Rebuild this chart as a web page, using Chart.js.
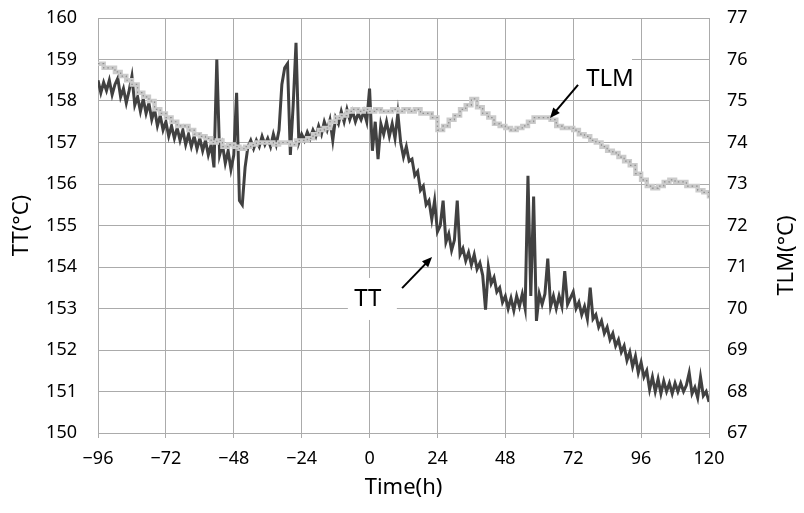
<!DOCTYPE html>
<html>
<head>
<meta charset="utf-8">
<script src="https://cdn.jsdelivr.net/npm/chart.js@4.4.1/dist/chart.umd.min.js"></script>
<style>
  html, body { margin: 0; padding: 0; background: #fff; }
  #wrap { width: 804px; height: 513px; }
</style>
</head>
<body>
<div id="wrap"><canvas id="grafico" width="804" height="513"></canvas></div>
<script>
/*******************************************************************************/
// Datos

// TT, una lectura por hora, de -96 h a 120 h
const ttStart = -96;
const ttValues = [
    158.5, 158.2, 158.45, 158.25, 158.5, 158.15, 158.4, 158.55, 158.1, 158.3, 157.95, 158.25,   // -96..-85
    158.6, 157.9, 158.1, 157.75, 158.05, 157.7, 157.95, 157.55, 157.8, 157.4, 157.65, 157.3,    // -84..-73
    157.5, 157.15, 157.4, 157.1, 157.35, 157.05, 157.3, 156.95, 157.2, 156.9, 157.15, 156.85,   // -72..-61
    157.1, 156.8, 157.05, 156.7, 156.95, 156.4, 159.0, 156.7, 156.95, 156.5, 156.8, 156.35,     // -60..-49
    156.7, 158.2, 155.6, 155.5, 156.4, 156.9, 157.05, 156.85, 157.05, 156.9, 157.15, 156.95,    // -48..-37
    157.1, 156.9, 157.2, 156.95, 157.3, 158.4, 158.8, 158.9, 156.7, 157.9, 159.4, 157.0,        // -36..-25
    157.2, 157.05, 157.25, 157.1, 157.3, 157.15, 157.4, 157.2, 157.5, 157.3, 157.55, 157.05,    // -24..-13
    157.6, 157.45, 157.75, 157.5, 157.8, 157.55, 157.75, 157.5, 157.7, 157.55, 157.75, 157.5,   // -12..-1
    158.3, 156.8, 157.5, 156.6, 157.45, 157.2, 157.5, 157.15, 157.45, 157.1, 157.7, 157.0,      // 0..11
    156.65, 156.9, 156.55, 156.6, 156.2, 156.3, 155.85, 155.95, 155.5, 155.6, 155.15, 155.6,    // 12..23
    154.85, 155.0, 155.6, 154.6, 154.8, 154.4, 154.65, 155.6, 154.3, 154.45, 154.15, 154.35,    // 24..35
    154.05, 154.3, 153.95, 154.1, 153.8, 152.97, 154.0, 153.6, 153.75, 153.4, 153.5, 153.15,    // 36..47
    153.3, 153.0, 153.25, 152.95, 153.3, 153.05, 153.35, 153.0, 156.2, 153.3, 155.7, 152.7,     // 48..59
    153.35, 153.1, 153.35, 154.2, 153.05, 153.3, 153.0, 153.3, 153.05, 153.9, 153.1, 153.25,    // 60..71
    153.4, 153.0, 153.15, 152.85, 153.05, 152.75, 153.5, 152.75, 152.85, 152.55, 152.7, 152.4,  // 72..83
    152.55, 152.25, 152.4, 152.1, 152.25, 151.95, 152.1, 151.75, 151.95, 151.6, 151.85, 151.45, // 84..95
    151.7, 151.35, 151.5, 151.05, 151.35, 151.0, 151.3, 150.95, 151.25, 151.0, 151.2, 150.95,   // 96..107
    151.2, 151.0, 151.2, 151.0, 151.15, 151.45, 150.95, 151.1, 150.85, 151.35, 150.9, 151.0,    // 108..119
    150.75                                                                                        // 120
];

// TLM, una lectura cada 2 horas, de -96 h a 120 h
const tlmStart = -96;
const tlmStep = 2;
const tlmValues = [
    75.9, 75.8, 75.8, 75.7, 75.6, 75.5, 75.4, 75.2, 75.1, 75.0, 74.8, 74.7,     // -96..-74
    74.6, 74.5, 74.4, 74.4, 74.3, 74.2, 74.15, 74.1, 74.0, 74.05, 73.9, 73.95,  // -72..-50
    73.9, 73.85, 73.9, 73.95, 74.0, 74.0, 74.0, 73.95, 74.0, 74.0, 73.95, 74.05, // -48..-26
    74.05, 74.1, 74.2, 74.3, 74.35, 74.5, 74.6, 74.65, 74.75, 74.8, 74.75, 74.8, // -24..-2
    74.75, 74.8, 74.75, 74.75, 74.8, 74.75, 74.8, 74.75, 74.8, 74.7, 74.7, 74.6, // 0..22
    74.3, 74.4, 74.55, 74.65, 74.8, 74.9, 75.05, 74.85, 74.7, 74.6, 74.45, 74.4, // 24..46
    74.35, 74.3, 74.35, 74.4, 74.5, 74.6, 74.6, 74.6, 74.55, 74.4, 74.35, 74.35, // 48..70
    74.3, 74.2, 74.15, 74.05, 74.0, 73.9, 73.8, 73.75, 73.65, 73.55, 73.45, 73.25, // 72..94
    73.1, 72.95, 72.9, 72.95, 73.05, 73.1, 73.05, 73.05, 72.95, 72.95, 72.85, 72.8, // 96..118
    72.65                                                                          // 120
];

// Ejes
const timeTicks = [-96, -72, -48, -24, 0, 24, 48, 72, 96, 120];
const ttTicks = [150, 151, 152, 153, 154, 155, 156, 157, 158, 159, 160];
const tlmTicks = [67, 68, 69, 70, 71, 72, 73, 74, 75, 76, 77];

const ttPuntos = ttValues.map((v, i) => ({ x: ttStart + i, y: v }));
const tlmPuntos = tlmValues.map((v, i) => ({ x: tlmStart + i * tlmStep, y: v }));

/*******************************************************************************/
// Anotaciones (TT / TLM con flecha, titulo derecho)

const fuente = '"Noto Sans", "Open Sans", sans-serif';

function flecha(ctx, x1, y1, x2, y2) {
    const ang = Math.atan2(y2 - y1, x2 - x1);
    const largo = 11;
    ctx.beginPath();
    ctx.moveTo(x1, y1);
    ctx.lineTo(x2 - Math.cos(ang) * 6, y2 - Math.sin(ang) * 6);
    ctx.strokeStyle = '#000';
    ctx.lineWidth = 2;
    ctx.stroke();
    ctx.beginPath();
    ctx.moveTo(x2, y2);
    ctx.lineTo(x2 - largo * Math.cos(ang - 0.4), y2 - largo * Math.sin(ang - 0.4));
    ctx.lineTo(x2 - largo * Math.cos(ang + 0.4), y2 - largo * Math.sin(ang + 0.4));
    ctx.closePath();
    ctx.fillStyle = '#000';
    ctx.fill();
}

const etiquetas = {
    id: 'etiquetas',
    beforeDatasetsDraw(chart) {
        const { ctx, scales } = chart;
        ctx.save();
        ctx.fillStyle = '#fff';
        // caja blanca detras de "TT"
        const tx = scales.x.getPixelForValue(-0.6);
        const ty = scales.y.getPixelForValue(153.23);
        ctx.fillRect(tx - 20, ty - 21, 49, 42);
        // caja blanca detras de "TLM"
        const lx = scales.x.getPixelForValue(85);
        const ly = scales.y2.getPixelForValue(75.53);
        ctx.fillRect(lx - 35, ly - 29, 57, 45);
        ctx.restore();
    },
    afterDatasetsDraw(chart) {
        const { ctx, scales, chartArea } = chart;
        ctx.save();
        ctx.font = '24px ' + fuente;
        ctx.fillStyle = '#000';
        ctx.textAlign = 'center';
        ctx.textBaseline = 'middle';
        ctx.fillText('TT', scales.x.getPixelForValue(-0.6), scales.y.getPixelForValue(153.23));
        ctx.fillText('TLM', scales.x.getPixelForValue(85), scales.y2.getPixelForValue(75.53));
        flecha(ctx,
            scales.x.getPixelForValue(11.5), scales.y.getPixelForValue(153.49),
            scales.x.getPixelForValue(22.1), scales.y.getPixelForValue(154.24));
        flecha(ctx,
            scales.x.getPixelForValue(73.7), scales.y2.getPixelForValue(75.39),
            scales.x.getPixelForValue(63.8), scales.y2.getPixelForValue(74.59));

        // titulo del eje derecho, leido de abajo hacia arriba
        ctx.font = '22px ' + fuente;
        ctx.translate(scales.y2.right - 17, (chartArea.top + chartArea.bottom) / 2 + 30);
        ctx.rotate(-Math.PI / 2);
        ctx.fillText('TLM(\u00B0C)', 0, 0);
        ctx.restore();
    }
};

/*******************************************************************************/
// Grafico

function menos(v) {
    return v < 0 ? '\u2212' + Math.abs(v) : String(v);
}

function ajusteVertical(ancho) {
    return (s) => {
        s.width = ancho;
        s.paddingTop = 0;
        s.paddingBottom = 0;
    };
}

const gris = '#ababab';
const negro = '#000';

new Chart(document.getElementById('grafico').getContext('2d'), {
    type: 'line',
    data: {
        datasets: [
            {
                label: 'TLM puntos',
                data: tlmPuntos,
                yAxisID: 'y2',
                stepped: true,
                borderColor: '#8f8f8f',
                borderWidth: 1.2,
                borderDash: [1.5, 3],
                pointRadius: 0,
                fill: false
            },
            {
                label: 'TLM',
                data: tlmPuntos,
                yAxisID: 'y2',
                stepped: true,
                borderColor: '#cbcbcb',
                borderWidth: 4.5,
                pointRadius: 0,
                fill: false
            },
            {
                label: 'TT',
                data: ttPuntos,
                yAxisID: 'y',
                borderColor: '#414141',
                borderWidth: 3,
                pointRadius: 0,
                tension: 0,
                fill: false
            }
        ]
    },
    options: {
        responsive: false,
        animation: false,
        layout: { padding: { top: 18, left: 0, right: 0, bottom: 0 } },
        plugins: {
            legend: { display: false },
            tooltip: { enabled: false }
        },
        scales: {
            x: {
                type: 'linear',
                min: -96,
                max: 120,
                afterBuildTicks: (s) => { s.ticks = timeTicks.map((v) => ({ value: v })); },
                afterFit: (s) => { s.height = 80; },
                ticks: {
                    callback: menos,
                    color: negro,
                    font: { family: fuente, size: 18 },
                    padding: 10,
                    maxRotation: 0
                },
                grid: { color: gris, lineWidth: 1, tickLength: 5 },
                border: { color: gris },
                title: {
                    display: true,
                    text: 'Time(h)',
                    color: negro,
                    font: { family: fuente, size: 22 },
                    padding: { top: 0, bottom: 12 }
                }
            },
            y: {
                position: 'left',
                min: 150,
                max: 160,
                afterBuildTicks: (s) => { s.ticks = ttTicks.map((v) => ({ value: v })); },
                afterFit: ajusteVertical(98),
                ticks: {
                    color: negro,
                    font: { family: fuente, size: 18 },
                    padding: 21
                },
                grid: { color: gris, lineWidth: 1, drawTicks: false },
                border: { color: gris },
                title: {
                    display: true,
                    text: 'TT(\u00B0C)',
                    color: negro,
                    font: { family: fuente, size: 22 },
                    padding: { top: 9, bottom: 0 }
                }
            },
            y2: {
                position: 'right',
                min: 67,
                max: 77,
                afterBuildTicks: (s) => { s.ticks = tlmTicks.map((v) => ({ value: v })); },
                afterFit: ajusteVertical(95),
                ticks: {
                    color: negro,
                    font: { family: fuente, size: 18 },
                    padding: 18
                },
                grid: { drawOnChartArea: false, drawTicks: false },
                border: { color: gris },
                title: { display: false }
            }
        }
    },
    plugins: [etiquetas]
});
</script>
</body>
</html>
